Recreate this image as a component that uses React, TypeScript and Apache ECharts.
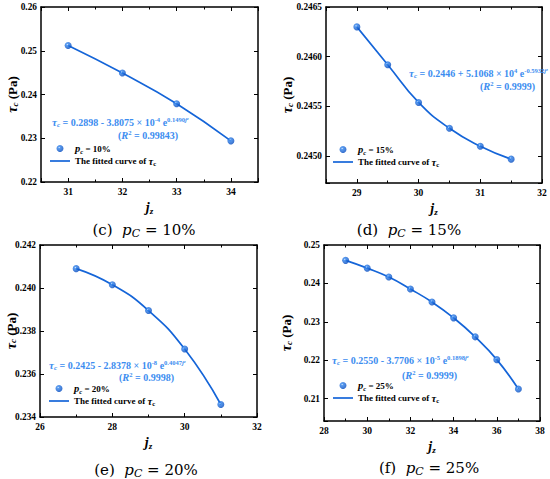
import React, { useEffect, useRef } from 'react';
import * as echarts from 'echarts';

// ---------- data ----------
const jzC = [31, 32, 33, 34];
const tauC = [0.2512, 0.2449, 0.2379, 0.2294];
const jzD = [29, 29.5, 30, 30.5, 31, 31.5];
const tauD = [0.2463, 0.24592, 0.24554, 0.24528, 0.2451, 0.24497];
const jzE = [27, 28, 29, 30, 31];
const tauE = [0.2409, 0.24015, 0.23895, 0.23716, 0.23458];
const jzF = [29, 30, 31, 32, 33, 34, 35, 36, 37];
const tauF = [0.246, 0.24398, 0.24165, 0.23853, 0.23515, 0.23104, 0.2261, 0.22017, 0.21251];

const xRangeC = [30.5, 34.5];
const yRangeC = [0.22, 0.26];
const xRangeD = [28.5, 32];
const yRangeD = [0.24473, 0.2465];
const xRangeE = [26, 32];
const yRangeE = [0.234, 0.242];
const xRangeF = [28, 38];
const yRangeF = [0.2042, 0.25];

const percents = ['10%', '15%', '20%', '25%'];
const letters = ['c', 'd', 'e', 'f'];
const eqConst = ['0.2898', '0.2446', '0.2425', '0.2550'];
const eqSign = ['-', '+', '-', '-'];
const eqCoef = ['3.8075', '5.1068', '2.8378', '3.7706'];
const eqPow = ['-4', '4', '-8', '-5'];
const eqRate = ['0.1490', '-0.5932', '0.4047', '0.1898'];
const r2 = ['0.99843', '0.9999', '0.9998', '0.9999'];

// ---------- styles / layout ----------
const FONT = 'Liberation Serif, serif';
const CAPFONT = 'DejaVu Serif, serif';
const BLUE = '#1565d8';
const EQC = '#3c8df0';

const layout = [
  { grid: { left: 41, top: 7, width: 217, height: 175 }, xSplit: 4, ySplit: 4, xStep: 1, yStep: 0.01, yDec: 2, nameGap: 22,
    legend: { left: 50, top: 143 }, eq: { x: 52, y: 122 }, r2: { x: 178, y: 135 }, cap: { x: 144, y: 230 } },
  { grid: { left: 326, top: 7, width: 216, height: 176 }, xSplit: 4, ySplit: 4, xStep: 1, yStep: 0.0005, yDec: 4, nameGap: 32,
    legend: { left: 333, top: 144 }, eq: { x: 409, y: 73 }, r2: { x: 535, y: 86 }, cap: { x: 409, y: 230 } },
  { grid: { left: 40, top: 245, width: 217, height: 172 }, xSplit: 3, ySplit: 4, xStep: 2, yStep: 0.002, yDec: 3, nameGap: 22.5,
    legend: { left: 49, top: 383 }, eq: { x: 49, y: 365 }, r2: { x: 174, y: 377 }, cap: { x: 146, y: 470 } },
  { grid: { left: 324, top: 245, width: 216, height: 176 }, xSplit: 5, ySplit: 5, xStep: 2, yStep: 0.01, yDec: 2, nameGap: 31,
    legend: { left: 333, top: 380 }, eq: { x: 332, y: 360 }, r2: { x: 457, y: 375 }, cap: { x: 429, y: 468 } },
];

const xs = [jzC, jzD, jzE, jzF];
const ys = [tauC, tauD, tauE, tauF];
const xRanges = [xRangeC, xRangeD, xRangeE, xRangeF];
const yRanges = [yRangeC, yRangeD, yRangeE, yRangeF];

const isStep = (v: number, s: number) => Math.abs(v / s - Math.round(v / s)) < 1e-6;

// ECharts label rich token
const t = (size: number, extra: any = {}) => ({
  fontFamily: FONT, fontSize: size, fontWeight: 'bold', fontStyle: 'normal', color: '#000', ...extra,
});
// zrender graphic rich token
const g = (size: number, extra: any = {}) => ({
  fontFamily: FONT, fontSize: size, fontWeight: 'bold', fontStyle: 'normal', ...extra,
});

function buildOption() {
  const grids: any[] = [];
  const xAxis: any[] = [];
  const yAxis: any[] = [];
  const series: any[] = [];
  const legend: any[] = [];
  const graphic: any[] = [];

  const axisLine = { show: true, onZero: false, lineStyle: { color: '#000', width: 1.5 } };
  const axisTick = { show: true, inside: true, length: 4, lineStyle: { color: '#000', width: 1 } };

  layout.forEach((L, i) => {
    grids.push({ ...L.grid, containLabel: false, outerBoundsMode: 'none', show: false });

    const xCommon = {
      type: 'value', gridIndex: i, min: xRanges[i][0], max: xRanges[i][1], splitNumber: L.xSplit,
      splitLine: { show: false }, axisLine, axisTick,
      minorTick: { show: true, splitNumber: 2, length: 2.5, lineStyle: { color: '#000', width: 1 } },
      minorSplitLine: { show: false },
    };
    xAxis.push({
      ...xCommon, position: 'bottom',
      axisLabel: { show: true, margin: 5, ...t(9.5), formatter: (v: number) => (isStep(v, L.xStep) ? String(Math.round(v)) : '') },
      name: '{j|j}{z|z}', nameLocation: 'middle', nameGap: 18, nameMoveOverlap: false,
      nameTextStyle: {
        rich: {
          j: t(14, { fontStyle: 'italic', lineHeight: 15 }),
          z: t(9, { fontStyle: 'italic', verticalAlign: 'bottom', lineHeight: 9 }),
        },
      },
    });
    xAxis.push({ ...xCommon, position: 'top', axisLabel: { show: false } });

    const yCommon = {
      type: 'value', gridIndex: i, min: yRanges[i][0], max: yRanges[i][1], splitNumber: L.ySplit,
      splitLine: { show: false }, axisLine, axisTick,
    };
    yAxis.push({
      ...yCommon, position: 'left',
      axisLabel: { show: true, margin: 4, ...t(9.3), formatter: (v: number) => (isStep(v, L.yStep) ? v.toFixed(L.yDec) : '') },
      name: '{tau|τ}{c|c}{n| (Pa)}', nameLocation: 'middle', nameRotate: 90, nameGap: L.nameGap, nameMoveOverlap: false,
      nameTextStyle: {
        rich: {
          tau: t(14, { fontStyle: 'italic', lineHeight: 13 }),
          c: t(9, { fontStyle: 'italic', verticalAlign: 'bottom', lineHeight: 8 }),
          n: t(13, { lineHeight: 13 }),
        },
      },
    });
    yAxis.push({ ...yCommon, position: 'right', axisLabel: { show: false } });

    const data = xs[i].map((x, k) => [x, ys[i][k]]);
    const marker = {
      type: 'radial', x: 0.38, y: 0.35, r: 0.62,
      colorStops: [
        { offset: 0, color: '#e4f0ff' },
        { offset: 0.22, color: '#3386ee' },
        { offset: 1, color: '#0a50c2' },
      ],
    };
    series.push({
      type: 'line', name: 'fit' + i, xAxisIndex: 2 * i, yAxisIndex: 2 * i, data, smooth: 0.5,
      symbol: 'none', lineStyle: { color: BLUE, width: 1.7 }, itemStyle: { color: BLUE }, z: 2,
    });
    series.push({
      type: 'scatter', name: 'pc' + i, xAxisIndex: 2 * i, yAxisIndex: 2 * i, data, symbolSize: 7,
      itemStyle: { color: marker }, z: 3,
    });

    legend.push({
      data: [
        { name: 'pc' + i, icon: 'circle' },
        { name: 'fit' + i, icon: 'path://M0,0h20v1.7h-20z', itemStyle: { color: BLUE } },
      ],
      orient: 'vertical', left: L.legend.left, top: L.legend.top,
      itemWidth: 20, itemHeight: 7, itemGap: 1, padding: 0, selectedMode: false,
      formatter: (name: string) =>
        name.startsWith('pc') ? `{p|p}{s|c}{n| = ${percents[i]}}` : '{n|The fitted curve of }{tau|τ}{c|c}',
      textStyle: {
        ...t(9),
        rich: {
          p: t(10.5, { fontStyle: 'italic', lineHeight: 12 }),
          s: t(6.5, { fontStyle: 'italic', verticalAlign: 'bottom', lineHeight: 8 }),
          n: t(9, { lineHeight: 12 }),
          tau: t(10.5, { fontStyle: 'italic', lineHeight: 12 }),
          c: t(6.5, { verticalAlign: 'bottom', lineHeight: 8 }),
        },
      },
    });

    const eqRich = {
      t: g(11, { fontStyle: 'italic', lineHeight: 12 }),
      s: g(7, { fontStyle: 'italic', verticalAlign: 'bottom', lineHeight: 7 }),
      n: g(10, { lineHeight: 12 }),
      sup: g(6.5, { verticalAlign: 'top', lineHeight: 7 }),
      supi: g(6.5, { fontStyle: 'italic', verticalAlign: 'top', lineHeight: 7 }),
      supz: g(5, { fontStyle: 'italic', verticalAlign: 'top', lineHeight: 9 }),
      R: g(10.5, { fontStyle: 'italic', lineHeight: 12 }),
    };
    graphic.push({
      type: 'text', x: L.eq.x, y: L.eq.y, z: 10,
      style: {
        text: `{t|τ}{s|c}{n| = ${eqConst[i]} ${eqSign[i]} ${eqCoef[i]} × 10}{sup|${eqPow[i]}}{n| e}{sup|${eqRate[i]}}{supi|j}{supz|z}`,
        rich: eqRich, fill: EQC, textAlign: 'left', textVerticalAlign: 'middle',
      },
    });
    graphic.push({
      type: 'text', x: L.r2.x, y: L.r2.y, z: 10,
      style: {
        text: `{n|(}{R|R}{sup|2}{n| = ${r2[i]})}`,
        rich: eqRich, fill: EQC, textAlign: 'right', textVerticalAlign: 'middle',
      },
    });
    const cap = (size: number, extra: any = {}) => ({ fontFamily: CAPFONT, fontSize: size, fontWeight: 'normal', fontStyle: 'normal', ...extra });
    graphic.push({
      type: 'text', x: L.cap.x, y: L.cap.y, z: 10,
      style: {
        text: `{n|(${letters[i]})  }{i|p}{s|C}{n| = ${percents[i]}}`,
        rich: {
          n: cap(15, { lineHeight: 18 }),
          i: cap(15, { fontStyle: 'italic', lineHeight: 18 }),
          s: cap(11, { fontStyle: 'italic', verticalAlign: 'bottom', lineHeight: 13 }),
        },
        fill: '#000', textAlign: 'center', textVerticalAlign: 'middle',
      },
    });
  });

  return {
    animation: false,
    backgroundColor: '#fff',
    grid: grids,
    xAxis,
    yAxis,
    series,
    legend,
    graphic,
  };
}

export default function App() {
  const ref = useRef<HTMLDivElement>(null);
  useEffect(() => {
    const chart = echarts.init(ref.current!, null, { renderer: 'svg' });
    chart.setOption(buildOption() as any);
    return () => chart.dispose();
  }, []);
  return (
    <div
      ref={ref}
      style={{ position: 'fixed', left: 0, top: 0, width: 550, height: 479, background: '#fff' }}
    />
  );
}
